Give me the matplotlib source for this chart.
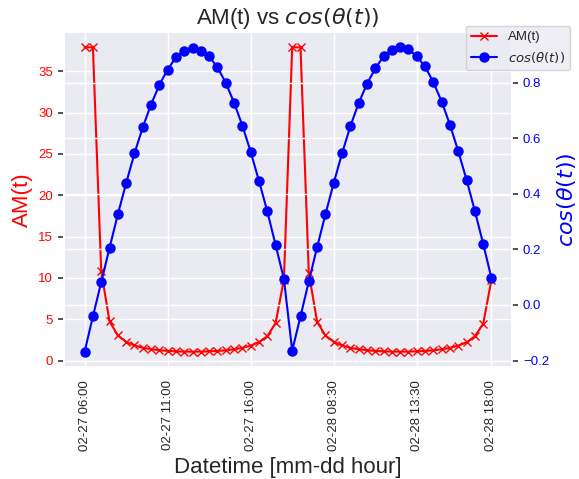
import numpy as np
import matplotlib
matplotlib.use("Agg")
import matplotlib.pyplot as plt
import seaborn as sns

# half-hourly samples, 06:00-18:00 on two days
tick_pos = [0, 10, 20, 30, 40, 49]
tick_labels = ["02-27 06:00", "02-27 11:00", "02-27 16:00",
               "02-28 08:30", "02-28 13:30", "02-28 18:00"]

cos_theta = [-0.168, -0.041, 0.082, 0.205, 0.326, 0.438, 0.545, 0.639, 0.721, 0.792,
             0.847, 0.891, 0.915, 0.923, 0.915, 0.894, 0.855, 0.799, 0.728, 0.645,
             0.551, 0.446, 0.337, 0.216, 0.094,
             -0.164, -0.041, 0.085, 0.208, 0.326, 0.439, 0.545, 0.643, 0.726, 0.795,
             0.851, 0.894, 0.918, 0.927, 0.921, 0.894, 0.858, 0.801, 0.732, 0.648,
             0.553, 0.450, 0.338, 0.220, 0.096]

am = [37.9, 37.9, 10.8, 4.75, 3.04, 2.27, 1.83, 1.56, 1.39, 1.26,
      1.18, 1.12, 1.09, 1.08, 1.09, 1.12, 1.17, 1.25, 1.37, 1.55,
      1.81, 2.24, 2.94, 4.55, 9.8,
      37.9, 37.9, 10.6, 4.70, 3.04, 2.27, 1.83, 1.55, 1.38, 1.26,
      1.18, 1.12, 1.09, 1.08, 1.09, 1.12, 1.17, 1.25, 1.37, 1.54,
      1.81, 2.22, 2.93, 4.46, 9.8]

sns.set_theme(style="darkgrid")
plt.rcParams['font.family'] = ['Liberation Sans', 'DejaVu Sans']

x = np.arange(len(am))

fig, ax1 = plt.subplots(figsize=(5.79, 4.79), dpi=100)
fig.subplots_adjust(left=0.111, right=0.884, top=0.933, bottom=0.234)

l1, = ax1.plot(x, am, color='red', marker='x', markersize=6, linewidth=1.5, label='AM(t)')
ax1.set_ylabel('AM(t)', color='red', fontsize=16)
ax1.tick_params(axis='y', labelcolor='red', labelsize=9.5, length=4.5, width=1.2,
                color='#333333', left=True)
ax1.set_xticks(tick_pos)
ax1.set_xticklabels(tick_labels, rotation=90, fontsize=9.5)
ax1.set_xlabel('Datetime [mm-dd hour]', fontsize=16)

ax2 = ax1.twinx()
l2, = ax2.plot(x, cos_theta, color='blue', marker='o', markersize=6.5, linewidth=1.5,
               label=r'$cos(\theta(t))$')
ax2.set_ylabel(r'$cos(\theta(t))$', color='blue', fontsize=16)
ax2.tick_params(axis='y', labelcolor='blue', labelsize=9.5, length=4.5, width=1.2,
                color='#333333', right=True)
ax2.set_yticks([-0.2, 0.0, 0.2, 0.4, 0.6, 0.8])

ax1.set_title(r'AM(t) vs $cos(\theta(t))$', fontsize=16)

fig.legend(handles=[l1, l2], loc='upper right', bbox_to_anchor=(0.9965, 0.960), fontsize=9.5)

fig.savefig('out.png', dpi=100)
